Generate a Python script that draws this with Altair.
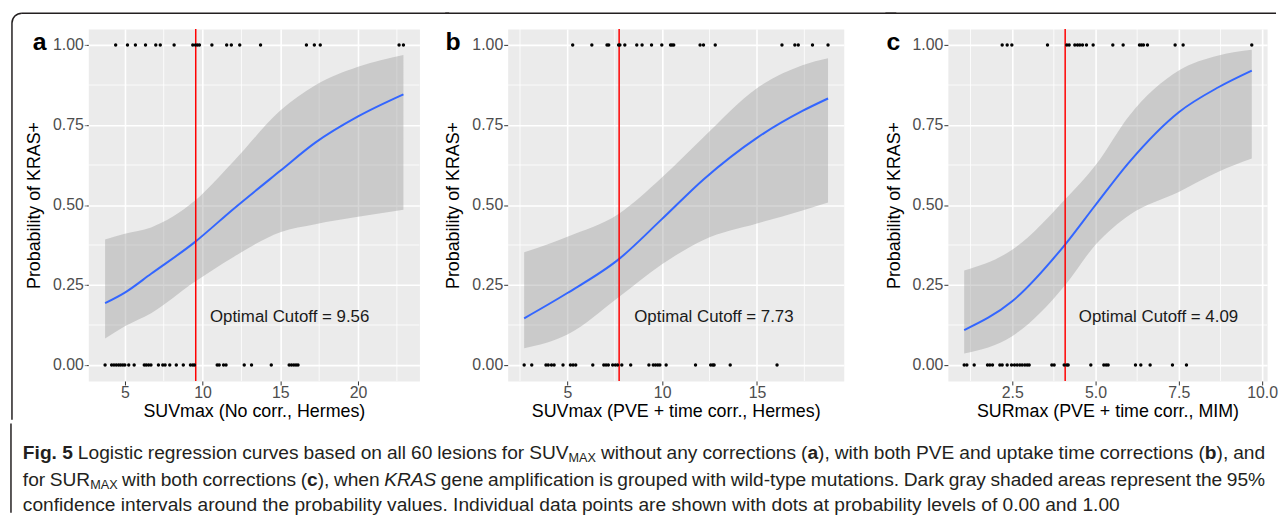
import altair as alt
import pandas as pd

FONT = "Liberation Sans"
INK = "#231f20"

# ---------------- Panel a : SUVmax (No corr., Hermes) ----------------
a_curve_x = [3.73, 5.0, 6.69, 9.5, 11.97, 15.0, 17.25, 20.0, 22.92]
a_fit = [0.193, 0.226, 0.285, 0.384, 0.487, 0.607, 0.695, 0.777, 0.846]
a_lo = [0.083, 0.121, 0.162, 0.26, 0.337, 0.415, 0.44, 0.463, 0.485]
a_hi = [0.392, 0.41, 0.43, 0.513, 0.635, 0.795, 0.874, 0.932, 0.969]
a_pos = [4.41, 5.17, 5.68, 6.33, 6.99, 7.28, 8.17, 9.37, 9.54, 9.67, 9.80, 10.6,
         11.55, 11.85, 12.39, 13.73, 16.68, 17.19, 17.57, 22.64, 22.92]
a_neg = [3.73, 4.15, 4.30, 4.45, 4.60, 4.73, 4.87, 5.0, 5.25, 5.60, 6.25, 6.38,
         6.53, 6.68, 7.16, 7.44, 7.59, 7.89, 8.31, 8.76, 9.22, 9.37, 9.48, 10.94,
         11.07, 11.35, 11.51, 12.68, 13.15, 14.42, 15.57, 15.72, 15.87, 16.01, 16.14]
a_cutoff = 9.56

# ---------------- Panel b : SUVmax (PVE + time corr., Hermes) ----------------
b_curve_x = [2.72, 5.0, 7.70, 9.97, 12.18, 15.0, 17.40, 18.75]
b_fit = [0.146, 0.225, 0.33, 0.455, 0.58, 0.71, 0.794, 0.833]
b_lo = [0.052, 0.095, 0.212, 0.314, 0.391, 0.442, 0.483, 0.508]
b_hi = [0.352, 0.401, 0.472, 0.585, 0.712, 0.865, 0.937, 0.959]
b_pos = [5.28, 6.29, 7.09, 7.18, 7.70, 7.77, 8.03, 8.66, 8.94, 9.44, 9.98, 10.44,
         10.52, 10.61, 12.0, 12.18, 12.8, 16.32, 17.0, 17.18, 17.93, 18.75]
b_neg = [2.72, 3.12, 3.87, 3.99, 4.16, 4.30, 4.77, 5.16, 5.30, 5.44, 6.34, 6.92,
         7.04, 7.16, 7.39, 7.53, 7.65, 7.87, 8.34, 9.30, 9.53, 9.65, 9.77, 9.88,
         10.21, 11.76, 12.56, 12.67, 12.74, 13.59, 16.06]
b_cutoff = 7.73

# ---------------- Panel c : SURmax (PVE + time corr., MIM) ----------------
c_curve_x = [1.06, 2.5, 4.10, 5.0, 6.02, 7.5, 8.69, 9.69]
c_fit = [0.109, 0.199, 0.378, 0.5, 0.635, 0.79, 0.868, 0.92]
c_lo = [0.036, 0.09, 0.251, 0.376, 0.469, 0.541, 0.604, 0.645]
c_hi = [0.295, 0.36, 0.519, 0.624, 0.78, 0.92, 0.967, 0.985]
c_pos = [2.20, 2.35, 2.49, 3.56, 4.14, 4.21, 4.38, 4.46, 4.53, 4.61, 4.73, 4.93,
         5.52, 5.83, 6.32, 6.38, 6.44, 6.56, 7.39, 7.63, 9.69]
c_neg = [1.06, 1.14, 1.36, 1.76, 1.83, 1.91, 2.13, 2.20, 2.35, 2.48, 2.57, 2.65,
         2.73, 2.80, 2.88, 2.95, 3.01, 3.69, 3.76, 4.06, 4.14, 4.18, 4.86, 5.25,
         5.32, 5.38, 6.20, 6.36, 6.64, 7.31, 7.73]
c_cutoff = 4.09

Y_TICKS = [0.0, 0.25, 0.5, 0.75, 1.0]
Y_MINOR = [0.125, 0.375, 0.625, 0.875]

ONE = pd.DataFrame({"k": [0]})


def frame_rule(x, x2, y, y2):
    return alt.Chart(ONE).mark_rule(color=INK, strokeWidth=1.5).encode(
        x=alt.value(x), x2=alt.value(x2), y=alt.value(y), y2=alt.value(y2))


def panel(curve_x, fit, lo, hi, pos, neg, cutoff, note_x, domain, ticks, minor,
          fmt, width, xtitle, letter, letter_dx, frame):
    curve = pd.DataFrame({"x": curve_x, "fit": fit, "lo": lo, "hi": hi})
    pts = pd.DataFrame({"x": pos + neg, "y": [1.0] * len(pos) + [0.0] * len(neg)})
    xs = alt.Scale(domain=domain, nice=False, zero=False)
    ys = alt.Scale(domain=[-0.05, 1.05], nice=False, zero=False)
    xaxis = alt.Axis(values=ticks, format=fmt, title=xtitle)
    yaxis = alt.Axis(values=Y_TICKS, format=".2f", title="Probability of KRAS+")

    def X(f):
        return alt.X(f, type="quantitative", scale=xs, axis=xaxis)

    def Y(f):
        return alt.Y(f, type="quantitative", scale=ys, axis=yaxis)

    vminor = alt.Chart(pd.DataFrame({"m": minor})).mark_rule(
        color="white", strokeWidth=0.8).encode(x=X("m"))
    hminor = alt.Chart(pd.DataFrame({"m": Y_MINOR})).mark_rule(
        color="white", strokeWidth=0.8).encode(y=Y("m"))
    band = alt.Chart(curve).mark_area(
        color="#999999", opacity=0.4, interpolate="monotone").encode(
        x=X("x"), y=Y("lo"), y2="hi")
    line = alt.Chart(curve).mark_line(
        color="#3366FF", strokeWidth=2, interpolate="monotone").encode(
        x=X("x"), y=Y("fit"))
    cut = alt.Chart(pd.DataFrame({"c": [cutoff]})).mark_rule(
        color="#FF0000", strokeWidth=1.5).encode(x=X("c"))
    dots = alt.Chart(pts).mark_circle(color="black", size=12, opacity=1).encode(
        x=X("x"), y=Y("y"))
    note = alt.Chart(pd.DataFrame({"x": [note_x], "y": [0.15],
                                   "t": [f"Optimal Cutoff = {cutoff:.2f}"]})).mark_text(
        font=FONT, fontSize=17, color="#1a1a1a", align="center", baseline="middle").encode(
        x=X("x"), y=Y("y"), text="t:N")
    lab = alt.Chart(pd.DataFrame({"t": [letter]})).mark_text(
        font=FONT, fontSize=25, fontWeight="bold", color="black",
        align="center", baseline="alphabetic").encode(
        x=alt.value(letter_dx), y=alt.value(21), text="t:N")
    return alt.layer(vminor, hminor, band, line, cut, dots, note, lab, *frame).properties(
        width=width, height=355)


# outer figure frame (top edge split across the three panels, rounded top-left corner)
frame_a = [
    frame_rule(-77, -77, -6, 394),
    alt.Chart(ONE).mark_arc(theta=4.712389, theta2=6.283185, radius=10.75, radius2=9.25,
                            color=INK).encode(x=alt.value(-67), y=alt.value(-6)),
    frame_rule(-67, 364, -16, -16),
]
frame_b = [frame_rule(-63, 392, -16, -16)]
frame_c = [frame_rule(-63, 331, -16, -16)]

pa = panel(a_curve_x, a_fit, a_lo, a_hi, a_pos, a_neg, a_cutoff, 15.6,
           [2.65, 23.95], [5, 10, 15, 20], [2.5, 7.5, 12.5, 17.5, 22.5], "d",
           334, "SUVmax (No corr., Hermes)", "a", -49, frame_a)
pb = panel(b_curve_x, b_fit, b_lo, b_hi, b_pos, b_neg, b_cutoff, 12.73,
           [1.85, 19.58], [5, 10, 15], [2.5, 7.5, 12.5, 17.5], "d",
           339, "SUVmax (PVE + time corr., Hermes)", "b", -55, frame_b)
pc = panel(c_curve_x, c_fit, c_lo, c_hi, c_pos, c_neg, c_cutoff, 6.89,
           [0.57, 10.15], [2.5, 5.0, 7.5, 10.0], [1.25, 3.75, 6.25, 8.75], ".1f",
           322, "SURmax (PVE + time corr., MIM)", "c", -55, frame_c)

# ---------------- Caption text (runs: text, style) ----------------
cap_line1 = [[("Fig. 5", "bold")], [("Logistic", "n")], [("regression", "n")], [("curves", "n")],
             [("based", "n")], [("on", "n")], [("all", "n")], [("60", "n")], [("lesions", "n")],
             [("for", "n")], [("SUV", "n"), ("MAX", "sub")], [("without", "n")], [("any", "n")],
             [("corrections", "n")], [("(", "n"), ("a", "bold"), ("),", "n")], [("with", "n")],
             [("both", "n")], [("PVE", "n")], [("and", "n")], [("uptake", "n")], [("time", "n")],
             [("corrections", "n")], [("(", "n"), ("b", "bold"), ("),", "n")], [("and", "n")]]
cap_line2 = [[("for", "n")], [("SUR", "n"), ("MAX", "sub")], [("with", "n")], [("both", "n")],
             [("corrections", "n")], [("(", "n"), ("c", "bold"), ("),", "n")], [("when", "n")],
             [("KRAS", "ital")], [("gene", "n")], [("amplification", "n")], [("is", "n")],
             [("grouped", "n")], [("with", "n")], [("wild-type", "n")], [("mutations.", "n")],
             [("Dark", "n")], [("gray", "n")], [("shaded", "n")], [("areas", "n")],
             [("represent", "n")], [("the", "n")], [("95%", "n")]]
cap_line3 = "confidence intervals around the probability values. Individual data points are shown with dots at probability levels of 0.00 and 1.00"

# Arial / Liberation Sans advance widths (1/1000 em), used to lay out the caption
_REG = {' ': 278, '%': 889, '(': 333, ')': 333, ',': 278, '-': 333, '.': 278, '+': 584,
        'A': 667, 'D': 722, 'F': 611, 'I': 278, 'K': 667, 'L': 556, 'M': 833, 'P': 667,
        'R': 722, 'S': 667, 'U': 722, 'V': 667, 'E': 667, 'X': 667,
        'a': 556, 'b': 556, 'c': 500, 'd': 556, 'e': 556, 'f': 278, 'g': 556, 'h': 556,
        'i': 222, 'j': 222, 'k': 500, 'l': 222, 'm': 833, 'n': 556, 'o': 556, 'p': 556,
        'q': 556, 'r': 333, 's': 500, 't': 278, 'u': 556, 'v': 500, 'w': 722, 'x': 500,
        'y': 500, 'z': 500}
_BOLD = dict(_REG)
_BOLD.update({'b': 611, 'g': 611, 'i': 278, 'c': 556})


def text_w(t, style, size, sub_size):
    table = _BOLD if style == "bold" else _REG
    s = sub_size if style == "sub" else size
    return sum(table.get(ch, 556) for ch in t) / 1000.0 * s


CAP_SIZE = 1107.0 / (sum(_REG.get(ch, 556) for ch in cap_line3) / 1000.0)
SUB_SIZE = CAP_SIZE * 0.66
CAP_X0 = -66          # left edge of caption, relative to panel a's plot area
CAP_W = 1253          # justified line length
LINE_Y = [22, 49, 74]

rows = []


def lay_justified(words, y):
    widths = [sum(text_w(t, s, CAP_SIZE, SUB_SIZE) for t, s in w) for w in words]
    gap = (CAP_W - sum(widths)) / (len(words) - 1)
    x = CAP_X0
    for w, ww in zip(words, widths):
        xx = x
        for t, s in w:
            rows.append({"t": t, "x": xx, "y": y + (5 if s == "sub" else 0), "s": s})
            xx += text_w(t, s, CAP_SIZE, SUB_SIZE)
        x += ww + gap


lay_justified(cap_line1, LINE_Y[0])
lay_justified(cap_line2, LINE_Y[1])
rows.append({"t": cap_line3, "x": CAP_X0, "y": LINE_Y[2], "s": "n"})
cap_df = pd.DataFrame(rows)


def cap_layer(style, **kw):
    return alt.Chart(cap_df[cap_df["s"] == style]).mark_text(
        font=FONT, align="left", baseline="middle", color=INK, **kw).encode(
        x=alt.X("x:Q", scale=None, axis=None),
        y=alt.Y("y:Q", scale=None, axis=None),
        text="t:N")


caption = alt.layer(
    frame_rule(-78, -78, -8, 82),
    cap_layer("n", fontSize=CAP_SIZE),
    cap_layer("bold", fontSize=CAP_SIZE, fontWeight="bold"),
    cap_layer("ital", fontSize=CAP_SIZE, fontStyle="italic"),
    cap_layer("sub", fontSize=SUB_SIZE),
).properties(width=1150, height=82, view=alt.ViewBackground(fill="white", stroke="transparent"))

top = alt.hconcat(alt.hconcat(pa, pb, spacing=-8), pc, spacing=-15)
chart = alt.vconcat(top, caption, spacing=0).properties(
    padding={"left": 1, "top": 1, "right": 0, "bottom": 0}
).configure_view(
    fill="#EBEBEB", stroke="transparent"
).configure_axis(
    domain=False, grid=True, gridColor="white", gridWidth=1.6,
    tickColor="#333333", tickSize=4, labelColor="#4D4D4D", labelFont=FONT,
    labelFontSize=16, titleFont=FONT, titleFontSize=18, titleFontWeight="normal",
    titleColor="black"
).configure_axisX(
    labelPadding=0, titlePadding=2
).configure_axisY(
    labelPadding=1, titlePadding=9
)

chart.save("out.html", embed_options={"renderer": "svg", "actions": False})
